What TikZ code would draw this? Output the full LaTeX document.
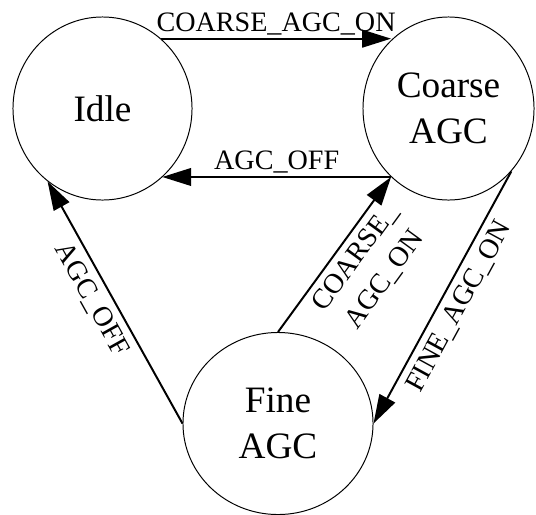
\documentclass[tikz,border=0pt]{standalone}
\usepackage{fontspec}
\setmainfont{Liberation Serif}
\usetikzlibrary{shapes.geometric,arrows.meta,positioning}

\tikzset{
  state/.style={ellipse, draw, line width=0.7pt, inner sep=0pt, align=center,
    font=\fontsize{26.5}{32.7}\selectfont},
  trans/.style={line width=1.4pt, -{Triangle[length=7.2mm,width=4.4mm]}},
  lbl/.style={font=\fontsize{20}{26}\selectfont, inner sep=2pt},
  slbl/.style={lbl, sloped, below, inner sep=5pt}
}

\begin{document}
\begin{tikzpicture}[x=0.025cm, y=-0.025cm]
    \useasboundingbox (0,0) rectangle (536,514);

    % states
    \node[state, minimum width=4.475cm, minimum height=4.575cm] (idle) at (102.5,108.5) {Idle};
    \node[state, minimum width=4.275cm, minimum height=4.575cm] (coarse) at (448.5,108.5) {Coarse\\AGC};
    \node[state, minimum width=4.75cm, minimum height=4.55cm] (fine) at (278,423.5) {Fine\\AGC};

    % transitions
    \draw[trans] (idle.50) -- (idle.50 -| coarse.130) node[lbl, midway, above] {COARSE\_AGC\_ON};
    \draw[trans] (coarse.230) -- (coarse.230 -| idle.-49) node[lbl, midway, above] {AGC\_OFF};
    \draw[trans] (fine.west) -- (idle.233) node[slbl, pos=0.55] {AGC\_OFF};
    \draw[trans] (fine.north) -- (coarse.230) node[slbl, pos=0.55, align=center] {COARSE\_\\AGC\_ON};
    \draw[trans] (coarse.315) -- (fine.east) node[slbl, midway] {FINE\_AGC\_ON};
\end{tikzpicture}
\end{document}
